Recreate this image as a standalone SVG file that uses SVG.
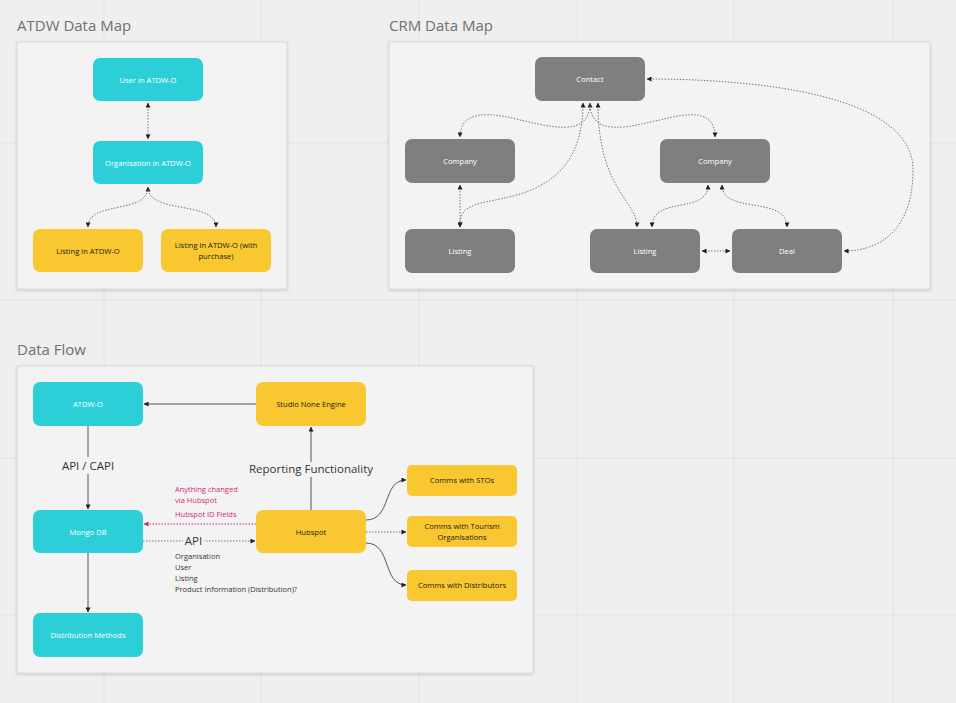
<svg xmlns="http://www.w3.org/2000/svg" width="956" height="703" viewBox="0 0 956 703">
<defs>
<marker id="ah" viewBox="0 0 6 6" refX="5.5" refY="3" markerWidth="5" markerHeight="5" markerUnits="userSpaceOnUse" orient="auto-start-reverse"><path d="M0,0 L6,3 L0,6 z" fill="#222"/></marker>
<marker id="ahp" viewBox="0 0 6 6" refX="5.5" refY="3" markerWidth="5" markerHeight="5" markerUnits="userSpaceOnUse" orient="auto-start-reverse"><path d="M0,0 L6,3 L0,6 z" fill="#d0287a"/></marker>
<filter id="sh" x="-5%" y="-5%" width="110%" height="110%"><feDropShadow dx="0" dy="1" stdDeviation="1.5" flood-color="#000" flood-opacity="0.18"/></filter>
<style>
.title{font-family:"Open Sans","Noto Sans","Liberation Sans",sans-serif;font-size:15px;fill:#707070}
.frame{fill:#f3f3f3;stroke:#d9d9d9;stroke-width:1;filter:url(#sh)}
.grid{stroke:#e2e2e2;stroke-width:1}
.cyan{fill:#2ccfd7}
.yel{fill:#f9c830}
.gray{fill:#7f7f7f}
.lw{font-family:"Open Sans","Noto Sans","Liberation Sans",sans-serif;font-size:7.6px;fill:#ffffff;text-anchor:middle}
.ld{font-family:"Open Sans","Noto Sans","Liberation Sans",sans-serif;font-size:7.6px;fill:#1a1a1a;text-anchor:middle}
.dot{fill:none;stroke:#777;stroke-width:1;stroke-dasharray:1.5 1.5}
.sol{fill:none;stroke:#555;stroke-width:1}
.pink{fill:none;stroke:#d0287a;stroke-width:1;stroke-dasharray:1.5 1.5}
.lab{font-family:"Open Sans","Noto Sans","Liberation Sans",sans-serif;font-size:11.5px;fill:#333;text-anchor:middle}
.sm{font-family:"Open Sans","Noto Sans","Liberation Sans",sans-serif;font-size:7.5px;fill:#333}
.smp{font-family:"Open Sans","Noto Sans","Liberation Sans",sans-serif;font-size:7.5px;fill:#d0287a}
</style>
</defs>
<rect width="956" height="703" fill="#efefef"/>
<g id="grid">
<line class="grid" x1="104" y1="0" x2="104" y2="703"/>
<line class="grid" x1="261" y1="0" x2="261" y2="703"/>
<line class="grid" x1="419" y1="0" x2="419" y2="703"/>
<line class="grid" x1="577" y1="0" x2="577" y2="703"/>
<line class="grid" x1="734" y1="0" x2="734" y2="703"/>
<line class="grid" x1="893" y1="0" x2="893" y2="703"/>
<line class="grid" x1="0" y1="143" x2="956" y2="143"/>
<line class="grid" x1="0" y1="300" x2="956" y2="300"/>
<line class="grid" x1="0" y1="458" x2="956" y2="458"/>
<line class="grid" x1="0" y1="615" x2="956" y2="615"/>
</g>
<g id="titles">
<text class="title" x="17" y="31">ATDW Data Map</text>
<text class="title" x="389" y="31">CRM Data Map</text>
<text class="title" x="17" y="355">Data Flow</text>
</g>
<g id="frames">
<rect class="frame" x="17" y="42" width="270" height="247"/>
<rect class="frame" x="389" y="42" width="541" height="247"/>
<rect class="frame" x="17" y="366" width="516" height="307"/>
</g>
<g id="connectors">
<line class="dot" x1="148" y1="103" x2="148" y2="139" marker-start="url(#ah)" marker-end="url(#ah)"/>
<path class="dot" d="M148 187 C148 215, 88 200, 88 227" marker-start="url(#ah)" marker-end="url(#ah)"/>
<path class="dot" d="M148 187 C148 215, 216 200, 216 227" marker-end="url(#ah)"/>
<path class="dot" d="M590 103 C590 140, 545 125, 520 120 C490 112, 460 110, 460 137" marker-start="url(#ah)" marker-end="url(#ah)"/>
<path class="dot" d="M590 103 C590 140, 635 125, 660 120 C690 112, 715 110, 715 137" marker-end="url(#ah)"/>
<path class="dot" d="M583 103 C583 200, 500 195, 475 205 C462 210, 460 215, 460 227" marker-start="url(#ah)" marker-end="url(#ah)"/>
<path class="dot" d="M598 103 C598 190, 637 200, 637 227" marker-start="url(#ah)" marker-end="url(#ah)"/>
<line class="dot" x1="460" y1="185" x2="460" y2="227" marker-start="url(#ah)" marker-end="url(#ah)"/>
<path class="dot" d="M708 185 C708 215, 652 195, 652 227" marker-start="url(#ah)" marker-end="url(#ah)"/>
<path class="dot" d="M722 185 C722 215, 787 195, 787 227" marker-start="url(#ah)" marker-end="url(#ah)"/>
<line class="dot" x1="702" y1="251" x2="730" y2="251" marker-start="url(#ah)" marker-end="url(#ah)"/>
<path class="dot" d="M647 79 C760 79, 913 95, 913 170 C913 230, 880 251, 844 251" marker-start="url(#ah)" marker-end="url(#ah)"/>
<line class="sol" x1="256" y1="404" x2="144" y2="404" marker-end="url(#ah)"/>
<line class="sol" x1="88" y1="426" x2="88" y2="509" marker-end="url(#ah)"/>
<line class="sol" x1="88" y1="553" x2="88" y2="612" marker-end="url(#ah)"/>
<line class="sol" x1="311" y1="510" x2="311" y2="427" marker-end="url(#ah)"/>
<line class="pink" x1="256" y1="524" x2="144" y2="524" marker-end="url(#ahp)"/>
<line class="dot" x1="143" y1="541" x2="255" y2="541" marker-end="url(#ah)"/>
<path class="sol" d="M366 520 C392 520, 382 480, 406 480" marker-end="url(#ah)"/>
<line class="dot" x1="366" y1="532" x2="406" y2="532" marker-end="url(#ah)"/>
<path class="sol" d="M366 543 C392 543, 382 585, 406 585" marker-end="url(#ah)"/>
<rect x="56" y="457" width="64" height="17" fill="#f3f3f3"/>
<text class="lab" x="88" y="469.5">API / CAPI</text>
<rect x="248" y="462" width="126" height="15" fill="#f3f3f3"/>
<text class="lab" x="311" y="473">Reporting Functionality</text>
<rect x="183" y="534" width="21" height="14" fill="#f3f3f3"/>
<text class="lab" x="193.5" y="545">API</text>
<text class="smp" x="175" y="492">Anything changed</text>
<text class="smp" x="175" y="503">via Hubspot</text>
<text class="smp" x="175" y="517">Hubspot ID Fields</text>
<text class="sm" x="175" y="559">Organisation</text>
<text class="sm" x="175" y="570">User</text>
<text class="sm" x="175" y="581">Listing</text>
<text class="sm" x="175" y="592">Product Information (Distribution)?</text>
</g>
<g id="n-user"><rect class="cyan" x="93" y="58" width="110" height="43" rx="7"/><text class="lw" x="148" y="82.5">User in ATDW-O</text></g>
<g id="n-org"><rect class="cyan" x="93" y="141" width="110" height="43" rx="7"/><text class="lw" x="148" y="165.5">Organisation in ATDW-O</text></g>
<g id="n-listing"><rect class="yel" x="33" y="229" width="110" height="43" rx="7"/><text class="ld" x="88" y="253.5">Listing in ATDW-O</text></g>
<g id="n-listing-purchase"><rect class="yel" x="161" y="229" width="110" height="43" rx="7"/><text class="ld" x="216" y="248">Listing in ATDW-O (with</text><text class="ld" x="216" y="259">purchase)</text></g>
<g id="n-contact"><rect class="gray" x="535" y="57" width="110" height="44" rx="7"/><text class="lw" x="590" y="81.5">Contact</text></g>
<g id="n-company-l"><rect class="gray" x="405" y="139" width="110" height="44" rx="7"/><text class="lw" x="460" y="163.5">Company</text></g>
<g id="n-company-r"><rect class="gray" x="660" y="139" width="110" height="44" rx="7"/><text class="lw" x="715" y="163.5">Company</text></g>
<g id="n-listing-l"><rect class="gray" x="405" y="229" width="110" height="44" rx="7"/><text class="lw" x="460" y="253.5">Listing</text></g>
<g id="n-listing-m"><rect class="gray" x="590" y="229" width="110" height="44" rx="7"/><text class="lw" x="645" y="253.5">Listing</text></g>
<g id="n-deal"><rect class="gray" x="732" y="229" width="110" height="44" rx="7"/><text class="lw" x="787" y="253.5">Deal</text></g>
<g id="n-atdwo"><rect class="cyan" x="33" y="382" width="110" height="44" rx="7"/><text class="lw" x="88" y="406.5">ATDW-O</text></g>
<g id="n-studio"><rect class="yel" x="256" y="382" width="110" height="44" rx="7"/><text class="ld" x="311" y="406.5">Studio None Engine</text></g>
<g id="n-mongo"><rect class="cyan" x="33" y="510" width="110" height="43" rx="7"/><text class="lw" x="88" y="534.5">Mongo DB</text></g>
<g id="n-hubspot"><rect class="yel" x="256" y="510" width="110" height="43" rx="7"/><text class="ld" x="311" y="534.5">Hubspot</text></g>
<g id="n-distribution"><rect class="cyan" x="33" y="613" width="110" height="44" rx="7"/><text class="lw" x="88" y="637.5">Distribution Methods</text></g>
<g id="n-stos"><rect class="yel" x="407" y="465" width="110" height="31" rx="5"/><text class="ld" x="462" y="483">Comms with STOs</text></g>
<g id="n-tourism"><rect class="yel" x="407" y="516" width="110" height="31" rx="5"/><text class="ld" x="462" y="528.5">Comms with Tourism</text><text class="ld" x="462" y="539.5">Organisations</text></g>
<g id="n-distributors"><rect class="yel" x="407" y="570" width="110" height="31" rx="5"/><text class="ld" x="462" y="588">Comms with Distributors</text></g>
</svg>
